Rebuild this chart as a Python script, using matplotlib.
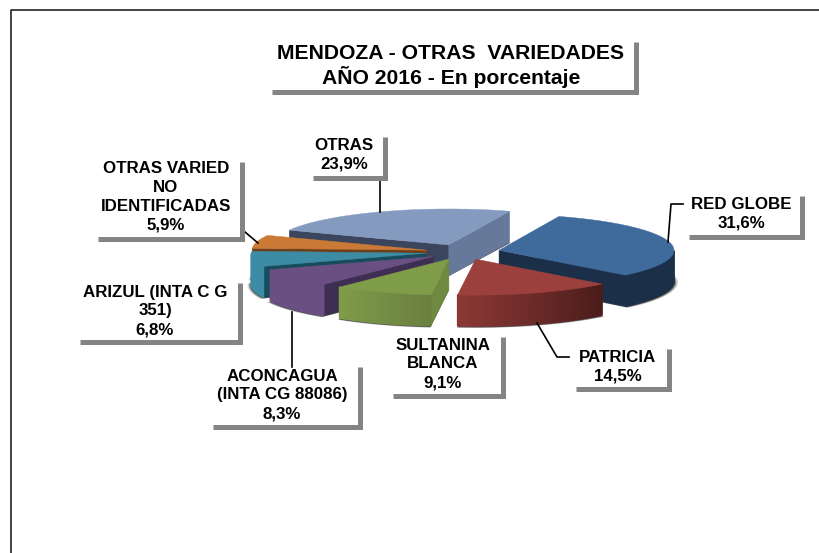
import numpy as np
import matplotlib
matplotlib.use('Agg')
import matplotlib.pyplot as plt
from matplotlib.patches import Polygon

plt.rcParams['font.family'] = ['Liberation Sans', 'DejaVu Sans']

categorias = ['RED GLOBE', 'PATRICIA', 'SULTANINA\nBLANCA', 'ACONCAGUA\n(INTA CG 88086)',
              'ARIZUL (INTA C G\n351)', 'OTRAS VARIED\nNO\nIDENTIFICADAS', 'OTRAS']
valores = [31.6, 14.5, 9.1, 8.3, 6.8, 5.9, 23.9]
titulo = 'MENDOZA - OTRAS  VARIEDADES\nAÑO 2016 - En porcentaje'

# colores: cara superior, pared, lado (izq, der)
c_top = ['#3f6a9c', '#9c403e', '#7f9c48', '#694f82', '#3c8ca6', '#cb7a36', '#849bbf']
c_pared = ['#1b2f48', '#4a1c1a', '#6f8a40', '#3e2e52', '#174c5c', '#6e3f18', '#3b465e']
c_lado_a = ['#1b2f48', '#8a3835', '#7f9c48', '#6a4f82', '#3c8ca6', '#a8642a', '#66799a']
c_lado_b = ['#1b2f48', '#4a1c1a', '#6a8040', '#6a4f82', '#3c8ca6', '#a8642a', '#66799a']
c_pared_otras = '#66799a'

# posicion de la torta en pixeles
cx, cy = 463, 252
a, b = 175, 36
prof = 31
expl = 37
inicio = 70

fig = plt.figure(figsize=(8.19, 5.53), dpi=100)
ax = fig.add_axes([0, 0, 1, 1])
ax.set_xlim(0, 819)
ax.set_ylim(553, 0)
ax.axis('off')

# marco
ax.plot([10.5, 10.5, 819], [553, 9.5, 9.5], color='#111111', lw=1.1)


def punto(t, x0, y0):
    r = np.radians(t)
    return x0 + a * np.cos(r), y0 - b * np.sin(r)


def caja(x0, x1, y0, y1):
    ax.plot([x0, x1, x1], [y1, y1, y0], color='#848484', lw=3.6, solid_capstyle='butt',
            solid_joinstyle='miter', zorder=3)


# angulos de cada porcion, sentido horario
angulos = []
t = inicio
for v in valores:
    angulos.append((t, t - v * 3.6))
    t = t - v * 3.6

# centros desplazados
centros = []
for t1, t2 in angulos:
    m = np.radians((t1 + t2) / 2)
    centros.append((cx + expl * np.cos(m), cy - expl * b / a * np.sin(m)))

# sombra bajo las porciones
for i in [6, 0, 5, 4, 3, 2, 1]:
    t1, t2 = angulos[i]
    x0, y0 = centros[i]
    ts = np.linspace(t1, t2, 80)
    for esc, al in [(1.022, 0.2), (1.014, 0.35), (1.006, 0.6)]:
        xs = x0 + (a * esc) * np.cos(np.radians(ts))
        ys = y0 + prof + 1 - (b * esc) * np.sin(np.radians(ts))
        ax.add_patch(Polygon(list(zip(xs, ys)) + [(x0, y0 + prof)], closed=True,
                             fc='#222222', ec='none', alpha=al, zorder=1))

# de atras hacia adelante
orden = [6, 0, 5, 4, 3, 2, 1]
zo = 2.0
for i in orden:
    t1, t2 = angulos[i]
    x0, y0 = centros[i]

    # paredes radiales
    for t_p, visible in [(t1, np.cos(np.radians(t1)) < 0), (t2, np.cos(np.radians(t2)) > 0)]:
        if not visible:
            continue
        px, py = punto(t_p, x0, y0)
        col = c_pared[i]
        if i == 6 and t_p == t2:
            col = c_pared_otras
        ax.add_patch(Polygon([(x0, y0), (px, py), (px, py + prof), (x0, y0 + prof)],
                             closed=True, fc=col, ec=col, lw=0.3, zorder=zo))
        zo += 0.001

    # lado exterior con degradado
    ts = np.linspace(t1, t2, 30)
    for k in range(len(ts) - 1):
        ta, tb = ts[k], ts[k + 1]
        if np.sin(np.radians((ta + tb) / 2)) > 0:
            continue
        pa, pb = punto(ta, x0, y0), punto(tb, x0, y0)
        f = k / (len(ts) - 2)
        ca = np.array(matplotlib.colors.to_rgb(c_lado_b[i]))
        cb = np.array(matplotlib.colors.to_rgb(c_lado_a[i]))
        col = tuple(ca + (cb - ca) * f)
        ax.add_patch(Polygon([pa, pb, (pb[0], pb[1] + prof), (pa[0], pa[1] + prof)],
                             closed=True, fc=col, ec=col, lw=1.0, zorder=zo))
        zo += 0.001

    # cara superior
    xs = x0 + a * np.cos(np.radians(ts))
    ys = y0 - b * np.sin(np.radians(ts))
    ax.add_patch(Polygon(list(zip(xs, ys)) + [(x0, y0)], closed=True, fc=c_top[i],
                         ec=c_top[i], lw=0.3, zorder=zo))
    zo += 0.001

# lineas guia
guias = [([668, 671, 683], [242, 204, 204]), ([537, 557, 569], [323, 357, 357]),
         ([292, 292], [312, 367]), ([245, 258], [232, 243]), ([380, 380], [178, 212])]
for gx, gy in guias:
    ax.plot(gx, gy, color='black', lw=1.2, zorder=3)

# titulo
caja(272, 636, 42, 92)
ax.text(451, 66, titulo, ha='center', va='center', fontsize=15.2, fontweight='bold',
        linespacing=1.17, zorder=4)

# etiquetas
pos_x = [741, 618, 443, 282, 155, 166, 344]
pos_y = [214, 367, 364, 395, 311, 197, 155]
cajas = [(689, 802, 196, 237), (576, 669, 349, 389), (393, 503, 337, 396), (213, 360, 367, 427),
         (80, 240, 283, 342), (98, 242, 162, 239), (313, 385, 137, 178)]
for i in range(len(valores)):
    caja(*cajas[i])
    texto = categorias[i] + '\n' + ('%.1f%%' % valores[i]).replace('.', ',')
    ax.text(pos_x[i], pos_y[i], texto, ha='center', va='center', fontsize=12.2, fontweight='bold',
            linespacing=1.32, zorder=4)

fig.savefig('out.png', dpi=100)
